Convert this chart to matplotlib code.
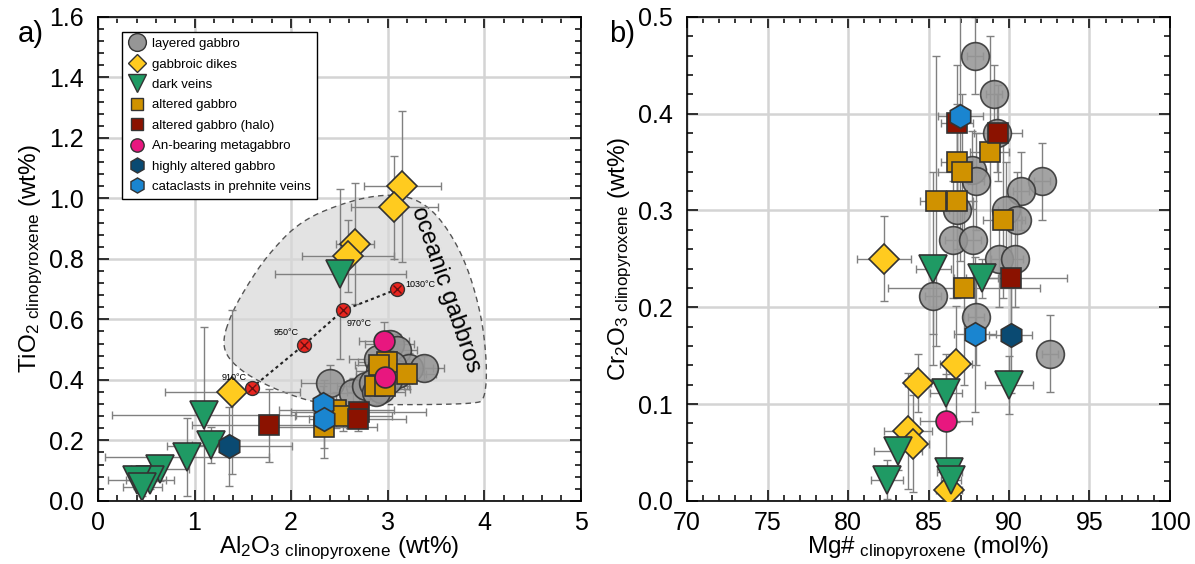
import numpy as np
import matplotlib
matplotlib.use('Agg')
import matplotlib.pyplot as plt
from matplotlib.lines import Line2D
from matplotlib.ticker import AutoMinorLocator, FormatStrFormatter

plt.rcParams['font.family'] = ['Liberation Sans', 'DejaVu Sans']
plt.rcParams['mathtext.fontset'] = 'custom'
plt.rcParams['mathtext.rm'] = 'Liberation Sans'
plt.rcParams['mathtext.default'] = 'regular'

# ---------------- panel a: Al2O3 vs TiO2 (wt%) ----------------
lg_al = [3.02, 3.10, 2.90, 3.22, 3.38, 3.10, 2.92, 2.40, 2.64, 2.78, 2.85, 2.93, 3.00, 2.88, 3.05]
lg_ti = [0.52, 0.50, 0.47, 0.44, 0.44, 0.42, 0.43, 0.39, 0.355, 0.38, 0.39, 0.37, 0.40, 0.36, 0.45]
lg_al_err = [0.25, 0.2, 0.3, 0.25, 0.2, 0.3, 0.25, 0.3, 0.35, 0.3, 0.25, 0.3, 0.25, 0.3, 0.2]
lg_ti_err = [0.04, 0.05, 0.04, 0.05, 0.04, 0.05, 0.06, 0.06, 0.05, 0.04, 0.05, 0.04, 0.05, 0.04, 0.05]

dk_al = [3.15, 3.07, 2.66, 2.59, 1.39]
dk_ti = [1.04, 0.97, 0.85, 0.81, 0.36]
dk_al_err = [0.40, 0.45, 0.20, 0.48, 0.70]
dk_ti_err = [0.25, 0.17, 0.20, 0.12, 0.27]

dv_al = [2.51, 1.10, 1.17, 0.92, 0.64, 0.54, 0.40, 0.46]
dv_ti = [0.75, 0.285, 0.185, 0.145, 0.105, 0.07, 0.07, 0.047]
dv_al_err = [0.68, 0.95, 0.20, 0.85, 0.30, 0.25, 0.30, 0.20]
dv_ti_err = [0.28, 0.29, 0.06, 0.13, 0.04, 0.03, 0.03, 0.03]

ag_al = [2.99, 2.91, 3.20, 2.87, 2.97, 2.47, 2.34, 2.54]
ag_ti = [0.46, 0.45, 0.42, 0.38, 0.38, 0.30, 0.245, 0.28]
ag_al_err = [0.3, 0.25, 0.3, 0.3, 0.25, 0.6, 0.55, 0.5]
ag_ti_err = [0.05, 0.06, 0.05, 0.05, 0.04, 0.06, 0.07, 0.05]

ah_al = [1.77, 2.70, 2.69]
ah_ti = [0.25, 0.295, 0.27]
ah_al_err = [0.8, 0.7, 0.5]
ah_ti_err = [0.12, 0.05, 0.04]

an_al = [2.96, 2.97]
an_ti = [0.53, 0.41]
an_al_err = [0.26, 0.30]
an_ti_err = [0.06, 0.05]

ha_al = [1.36]
ha_ti = [0.18]
ha_al_err = [0.65]
ha_ti_err = [0.13]

cc_al = [2.33, 2.34]
cc_ti = [0.32, 0.27]
cc_al_err = [0.10, 0.10]
cc_ti_err = [0.06, 0.13]

temp_al = [1.59, 2.13, 2.54, 3.10]
temp_ti = [0.373, 0.515, 0.63, 0.70]
temp_lab = ['910°C', '950°C', '970°C', '1030°C']

# outline of the oceanic gabbro field (control polygon, smoothed below)
field_al = [1.28, 1.38, 1.56, 1.75, 2.09, 2.58, 2.99, 3.30, 3.55, 3.80, 3.97, 4.03, 4.01, 3.92,
            2.40, 2.12, 1.68, 1.38]
field_ti = [0.52, 0.62, 0.72, 0.81, 0.925, 0.99, 1.015, 1.00, 0.935, 0.80, 0.62, 0.45, 0.34, 0.318,
            0.318, 0.335, 0.39, 0.455]

# ---------------- panel b: Mg# vs Cr2O3 ----------------
lg_mg = [87.89, 89.07, 89.25, 87.7, 87.95, 92.05, 90.75, 86.77, 89.8, 90.5, 86.5, 87.76, 89.4, 90.4,
         85.28, 87.95, 92.55]
lg_cr = [0.46, 0.42, 0.38, 0.342, 0.33, 0.33, 0.32, 0.30, 0.30, 0.29, 0.27, 0.27, 0.25, 0.25,
         0.212, 0.19, 0.152]
lg_mg_err = [0.5, 0.5, 0.6, 0.5, 0.5, 0.5, 0.5, 0.5, 0.5, 0.5, 0.5, 0.5, 0.5, 0.5, 0.5, 0.5, 0.5]
lg_cr_err = [0.04, 0.03, 0.04, 0.04, 0.05, 0.04, 0.04, 0.04, 0.05, 0.05, 0.06, 0.04, 0.05, 0.05,
             0.04, 0.05, 0.04]

dk_mg = [82.24, 86.7, 84.35, 83.73, 84.04, 86.27]
dk_cr = [0.25, 0.141, 0.122, 0.072, 0.059, 0.011]
dk_mg_err = [1.7, 1.0, 0.8, 1.5, 1.0, 0.8]
dk_cr_err = [0.044, 0.06, 0.03, 0.06, 0.05, 0.02]

dv_mg = [85.3, 88.3, 86.1, 90.0, 83.1, 86.3, 86.4, 82.4]
dv_cr = [0.24, 0.23, 0.111, 0.12, 0.052, 0.03, 0.022, 0.022]
dv_mg_err = [1.1, 1.0, 1.0, 1.5, 1.5, 0.8, 0.6, 1.0]
dv_cr_err = [0.10, 0.02, 0.02, 0.03, 0.02, 0.01, 0.01, 0.02]

ag_mg = [86.77, 87.08, 88.8, 85.47, 86.77, 89.6, 87.2]
ag_cr = [0.35, 0.34, 0.36, 0.31, 0.31, 0.29, 0.22]
ag_mg_err = [1.0, 1.5, 1.2, 1.0, 1.0, 1.2, 4.7]
ag_cr_err = [0.05, 0.08, 0.12, 0.15, 0.10, 0.08, 0.10]

ah_mg = [86.77, 89.3, 90.1]
ah_cr = [0.39, 0.38, 0.23]
ah_mg_err = [1.0, 1.5, 3.5]
ah_cr_err = [0.06, 0.05, 0.06]

an_mg = [86.1]
an_cr = [0.082]
an_mg_err = [1.6]
an_cr_err = [0.07]

ha_mg = [90.1]
ha_cr = [0.171]
ha_mg_err = [1.35]
ha_cr_err = [0.06]

cc_mg = [86.96, 87.9]
cc_cr = [0.398, 0.172]
cc_mg_err = [1.4, 1.3]
cc_cr_err = [0.15, 0.08]

# marker styles: label, marker, size, face colour
styles = [
    ('layered gabbro', 'o', 20, '#969696'),
    ('gabbroic dikes', 'D', 15, '#FFCB1F'),
    ('dark veins', 'v', 20, '#1F9A64'),
    ('altered gabbro', 's', 14, '#D09200'),
    ('altered gabbro (halo)', 's', 14, '#8B1200'),
    ('An-bearing metagabbro', 'o', 15, '#E8177F'),
    ('highly altered gabbro', 'h', 17, '#0A4A72'),
    ('cataclasts in prehnite veins', 'h', 17, '#1A85D0'),
]

groups_a = [(lg_al, lg_ti, lg_al_err, lg_ti_err), (dk_al, dk_ti, dk_al_err, dk_ti_err),
            (dv_al, dv_ti, dv_al_err, dv_ti_err), (ag_al, ag_ti, ag_al_err, ag_ti_err),
            (ah_al, ah_ti, ah_al_err, ah_ti_err), (an_al, an_ti, an_al_err, an_ti_err),
            (ha_al, ha_ti, ha_al_err, ha_ti_err), (cc_al, cc_ti, cc_al_err, cc_ti_err)]
groups_b = [(lg_mg, lg_cr, lg_mg_err, lg_cr_err), (dk_mg, dk_cr, dk_mg_err, dk_cr_err),
            (dv_mg, dv_cr, dv_mg_err, dv_cr_err), (ag_mg, ag_cr, ag_mg_err, ag_cr_err),
            (ah_mg, ah_cr, ah_mg_err, ah_cr_err), (an_mg, an_cr, an_mg_err, an_cr_err),
            (ha_mg, ha_cr, ha_mg_err, ha_cr_err), (cc_mg, cc_cr, cc_mg_err, cc_cr_err)]


def chaikin(x, y, n=4):
    pts = np.column_stack([x, y]).astype(float)
    for _ in range(n):
        q = np.roll(pts, -1, axis=0)
        pts = np.column_stack([0.75 * pts + 0.25 * q, 0.25 * pts + 0.75 * q]).reshape(-1, 2)
    return pts


def draw_groups(ax, groups):
    for (x, y, xe, ye) in groups:
        ax.errorbar(x, y, xerr=xe, yerr=ye, fmt='none', ecolor='#808080', elinewidth=1,
                    capsize=3, capthick=1, zorder=2)
    for i, ((x, y, xe, ye), (lab, m, ms, fc)) in enumerate(zip(groups, styles)):
        ax.plot(x, y, ls='none', marker=m, ms=ms, mfc=fc, mec='#333333', mew=1.2,
                alpha=0.88 if i == 0 else 1, zorder=3 + i)


def style_axis(ax):
    ax.grid(True, color='#d4d4d4', lw=1.8)
    ax.set_axisbelow(True)
    ax.xaxis.set_minor_locator(AutoMinorLocator(5))
    ax.yaxis.set_minor_locator(AutoMinorLocator(5))
    ax.tick_params(which='both', direction='in', top=True, right=True, labelsize=18,
                   width=1.1)
    ax.tick_params(which='major', length=8)
    ax.tick_params(which='minor', length=4)
    ax.tick_params(axis='x', which='major', pad=7)
    ax.tick_params(axis='y', which='major', pad=10)
    for s in ax.spines.values():
        s.set_linewidth(1.2)


fig = plt.figure(figsize=(11.95, 5.64), dpi=100)
ax1 = fig.add_axes([0.082, 0.112, 0.404, 0.858])
ax2 = fig.add_axes([0.575, 0.112, 0.404, 0.858])

# panel a
field = chaikin(field_al, field_ti, 4)
ax1.fill(field[:, 0], field[:, 1], facecolor='#d8d8d8', alpha=0.7, edgecolor='none', zorder=1)
ax1.plot(np.append(field[:, 0], field[0, 0]), np.append(field[:, 1], field[0, 1]),
         ls=(0, (4, 3)), color='#555555', lw=1, zorder=1.2)
ax1.text(3.60, 0.70, 'oceanic gabbros', rotation=-71, ha='center', va='center', fontsize=17,
         rotation_mode='anchor', zorder=1.5)

draw_groups(ax1, groups_a)

ax1.plot(temp_al, temp_ti, ls=(0, (1.5, 1.5)), color='#222222', lw=1.5, zorder=20)
ax1.plot(temp_al, temp_ti, ls='none', marker='o', ms=10, mfc='#E8251F', mec='#333333', mew=1,
         zorder=21)
ax1.plot(temp_al, temp_ti, ls='none', marker='x', ms=6, mec='#6a0f0f', mew=1, zorder=22)
offs = [(-0.05, 0.035, 'right'), (-0.05, 0.04, 'right'), (0.04, -0.045, 'left'), (0.08, 0.015, 'left')]
for x, y, t, (dx, dy, ha) in zip(temp_al, temp_ti, temp_lab, offs):
    ax1.text(x + dx, y + dy, t, fontsize=6.5, ha=ha, va='center', zorder=23)

ax1.set_xlim(0, 5)
ax1.set_ylim(0, 1.6)
ax1.yaxis.set_major_formatter(FormatStrFormatter('%.1f'))
style_axis(ax1)
ax1.set_xlabel(r'Al$_2$O$_{3\ clinopyroxene}$ (wt%)', fontsize=17.5, labelpad=0)
ax1.set_ylabel(r'TiO$_{2\ clinopyroxene}$ (wt%)', fontsize=17.5, labelpad=3)

handles = [Line2D([], [], ls='none', marker=m, ms=ms * 0.64, mfc=fc, mec='#333333', mew=1,
                  label=lab) for (lab, m, ms, fc) in styles]
leg = ax1.legend(handles=handles, loc='upper left', bbox_to_anchor=(0.05, 0.969), fontsize=9.5,
                 frameon=True, fancybox=False, edgecolor='black', framealpha=1,
                 borderaxespad=0, labelspacing=0.62, handletextpad=0.4, handlelength=1.4,
                 borderpad=0.45)
leg.get_frame().set_linewidth(1)
leg.set_zorder(30)

# panel b
draw_groups(ax2, groups_b)
ax2.set_xlim(70, 100)
ax2.set_ylim(0, 0.5)
ax2.yaxis.set_major_formatter(FormatStrFormatter('%.1f'))
style_axis(ax2)
ax2.set_xlabel(r'Mg#$_{\ clinopyroxene}$ (mol%)', fontsize=17.5, labelpad=0)
ax2.set_ylabel(r'Cr$_2$O$_{3\ clinopyroxene}$ (wt%)', fontsize=17.5, labelpad=3)

fig.text(0.015, 0.925, 'a)', fontsize=21)
fig.text(0.510, 0.925, 'b)', fontsize=21)

fig.savefig('out.png', dpi=100)
